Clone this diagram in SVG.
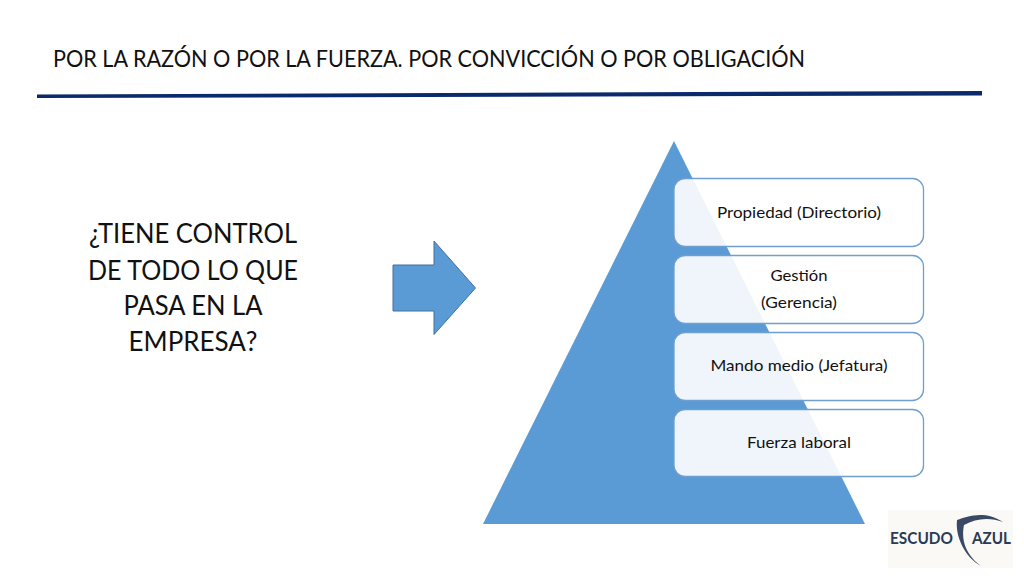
<svg xmlns="http://www.w3.org/2000/svg" width="1024" height="576" viewBox="0 0 1024 576">
<style>
text{font-family:"Lato","Open Sans","Liberation Sans",sans-serif;fill:#111;text-anchor:middle}
.box{fill:#fff;fill-opacity:.9;stroke:#6f9fd0;stroke-width:1.3}
.lab{font-size:16px}
.q{font-size:26px}
.logo{font-size:17px;font-weight:700;fill:#2b3a55;text-anchor:start}
</style>
<rect width="1024" height="576" fill="#fff"/>
<g id="title"><text x="429" y="67" style="font-size:23.5px" textLength="752" lengthAdjust="spacingAndGlyphs">POR LA RAZÓN O POR LA FUERZA. POR CONVICCIÓN O POR OBLIGACIÓN</text></g>
<g id="rule"><polygon points="37,94.5 982,91 982,95.5 37,98" fill="#0b2a6b"/></g>
<g id="question">
<text class="q" x="193" y="243" textLength="208" lengthAdjust="spacingAndGlyphs">¿TIENE CONTROL</text>
<text class="q" x="193" y="280" textLength="210" lengthAdjust="spacingAndGlyphs">DE TODO LO QUE</text>
<text class="q" x="193" y="315" textLength="139" lengthAdjust="spacingAndGlyphs">PASA EN LA</text>
<text class="q" x="193" y="351" textLength="129" lengthAdjust="spacingAndGlyphs">EMPRESA?</text>
</g>
<g id="connectors"><polygon id="arrow" points="393,265 434,265 434,241 475.500,288 434,334.500 434,311 393,311" fill="#5b9bd5" stroke="#41719c" stroke-width="1"/></g>
<g id="pyramid"><polygon points="674,141 865,524 483,524" fill="#5b9bd5"/></g>
<g id="n1"><rect class="box" x="674" y="178.500" width="249.500" height="68" rx="11"/><text class="lab" x="799" y="217.500" textLength="164" lengthAdjust="spacingAndGlyphs">Propiedad (Directorio)</text></g>
<g id="n2"><rect class="box" x="674" y="255.500" width="249.500" height="68" rx="11"/><text class="lab" x="799" y="280.500" textLength="57" lengthAdjust="spacingAndGlyphs">Gestión</text><text class="lab" x="799" y="308" textLength="76" lengthAdjust="spacingAndGlyphs">(Gerencia)</text></g>
<g id="n3"><rect class="box" x="674" y="332.500" width="249.500" height="68" rx="11"/><text class="lab" x="799" y="371" textLength="177" lengthAdjust="spacingAndGlyphs">Mando medio (Jefatura)</text></g>
<g id="n4"><rect class="box" x="674" y="409.500" width="249.500" height="67" rx="11"/><text class="lab" x="799" y="448" textLength="104" lengthAdjust="spacingAndGlyphs">Fuerza laboral</text></g>
<g id="logo">
<rect x="888" y="510" width="125" height="58" fill="#fbf9f6"/>
<path d="M957 520C968 516 985 510 1003 522C990 517 976 518 964 525C962 535 962 552 981 566C966 558 955 538 957 520Z" fill="#3a4a66"/>
<text class="logo" x="890" y="544" textLength="63" lengthAdjust="spacingAndGlyphs">ESCUDO</text>
<text class="logo" x="972" y="544" textLength="39" lengthAdjust="spacingAndGlyphs">AZUL</text>
</g>
</svg>
